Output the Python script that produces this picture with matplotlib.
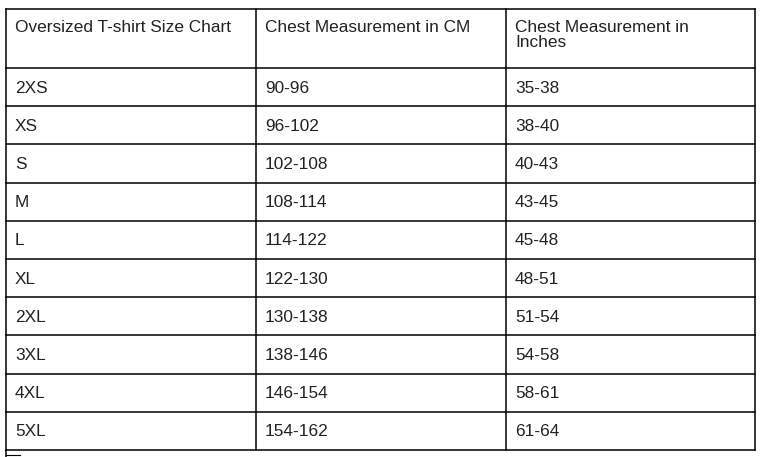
import matplotlib.pyplot as plt

plt.rcParams['font.family'] = ['Liberation Sans', 'DejaVu Sans']

headers = ["Oversized T-shirt Size Chart", "Chest Measurement in CM", "Chest Measurement in\nInches"]
sizes = ["2XS", "XS", "S", "M", "L", "XL", "2XL", "3XL", "4XL", "5XL"]
chest_cm = ["90-96", "96-102", "102-108", "108-114", "114-122", "122-130",
            "130-138", "138-146", "146-154", "154-162"]
chest_in = ["35-38", "38-40", "40-43", "43-45", "45-48", "48-51",
            "51-54", "54-58", "58-61", "61-64"]

W, H = 763, 457
fig = plt.figure(figsize=(W / 100, H / 100), dpi=100)
ax = fig.add_axes([0, 0, 1, 1])
ax.set_xlim(0, W)
ax.set_ylim(H, 0)
ax.axis('off')

col_x = [6, 256, 506, 755]
top, header_bottom, row_h = 9, 68, 38.2
row_y = [header_bottom + i * row_h for i in range(len(sizes) + 1)]
lw = 1.1

# grid lines
for x in col_x:
    ax.plot([x, x], [top, row_y[-1]], color='black', lw=lw)
ax.plot([col_x[0], col_x[-1]], [top, top], color='black', lw=lw)
for y in row_y:
    ax.plot([col_x[0], col_x[-1]], [y, y], color='black', lw=lw)
# start of the next (cut off) table below
ax.plot([col_x[0], col_x[0]], [row_y[-1], H], color='black', lw=lw)
ax.plot([col_x[0], 20], [455, 455], color='black', lw=0.8)

fs = 12.4
for j, h in enumerate(headers):
    ax.text(col_x[j] + 9, top + 11, h, fontsize=fs, va='top', ha='left',
            linespacing=1.0, color='#222222')

columns = [sizes, chest_cm, chest_in]
for i in range(len(sizes)):
    yc = (row_y[i] + row_y[i + 1]) / 2 + 1
    for j, col in enumerate(columns):
        ax.text(col_x[j] + 9, yc, col[i], fontsize=fs, va='center', ha='left',
                color='#222222')

fig.savefig('out.png', dpi=100)
